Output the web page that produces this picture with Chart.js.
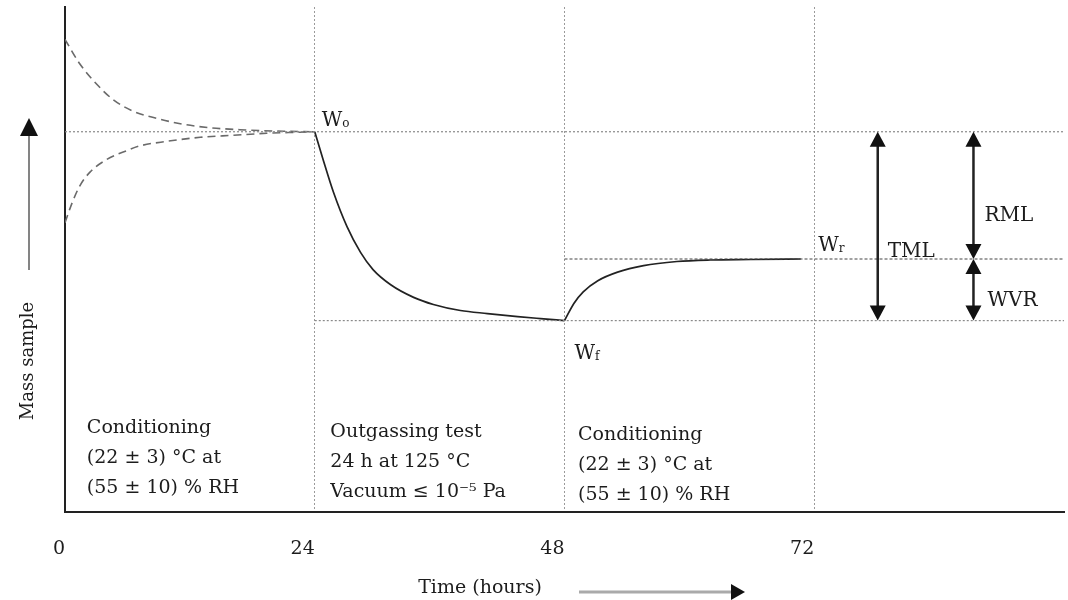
<!DOCTYPE html>
<html>
<head>
<meta charset="utf-8">
<script src="https://cdn.jsdelivr.net/npm/chart.js@4.4.0/dist/chart.umd.min.js"></script>
<style>
    html, body { margin: 0; padding: 0; background: #fff; }
    #wrap { width: 1068px; height: 600px; }
</style>
</head>
<body>
<div id="wrap"><canvas id="myChart" width="1068" height="600"></canvas></div>
<script>
// time ticks (hours)
var tickHours = [0, 24, 48, 72, 96];
var tickLabels = ["0", "24", "48", "72", ""];

// mass levels (relative units)
var massW0 = 75.3;
var massWr = 50.1;
var massWf = 37.9;

// conditioning, dashed curves
var condUpperX = [0, 1.4, 3.1, 4.6, 6.5, 8.9, 11.3, 13.9, 16.8, 21.0, 24];
var condUpperY = [93.6, 88.8, 84.6, 81.7, 79.4, 77.9, 76.8, 76.1, 75.7, 75.4, 75.3];
var condLowerX = [0, 0.7, 1.4, 2.4, 4.0, 6.0, 7.2, 9.8, 13.0, 16.2, 19.4, 22.6, 24];
var condLowerY = [57.3, 61.3, 64.5, 67.3, 69.8, 71.6, 72.5, 73.4, 74.2, 74.6, 75.0, 75.2, 75.3];

// outgassing test
var outgasX = [24, 24.8, 25.8, 27.1, 28.4, 29.6, 31.3, 33.5, 35.4, 38.0, 40.6, 43.5, 45.7, 48];
var outgasY = [75.3, 69.8, 63.3, 56.5, 51.4, 48.0, 45.0, 42.5, 41.1, 39.9, 39.3, 38.7, 38.3, 37.9];

// re-conditioning
var recoverX = [48, 48.9, 49.8, 51.2, 53.1, 55.6, 58.8, 62.0, 65.9, 70.7];
var recoverY = [37.9, 41.3, 43.6, 45.8, 47.5, 48.8, 49.6, 49.9, 50.0, 50.1];

// arrow positions (hours)
var tmlHour = 78.1;
var rmlHour = 87.3;

var serif = "'DejaVu Serif', 'Liberation Serif', serif";
var ink = "#1c1c1c";

function pts(xs, ys) {
    return xs.map(function (x, i) { return { x: x, y: ys[i] }; });
}

function dashed(data) {
    return { data: data, borderColor: "#6a6a6a", borderWidth: 1.6, borderDash: [8, 5], pointRadius: 0, fill: false, cubicInterpolationMode: "monotone" };
}
function solid(data) {
    return { data: data, borderColor: "#222", borderWidth: 1.7, pointRadius: 0, fill: false, cubicInterpolationMode: "monotone" };
}
function level(x0, y, color, dash) {
    return { data: [{ x: x0, y: y }, { x: 96, y: y }], borderColor: color, borderWidth: 1.2, borderDash: dash, pointRadius: 0, fill: false };
}

function arrowHead(ctx, x, y, dir) {
    // dir = -1 points up, 1 points down
    ctx.beginPath();
    ctx.moveTo(x, y);
    ctx.lineTo(x - 8, y - dir * 15);
    ctx.lineTo(x + 8, y - dir * 15);
    ctx.closePath();
    ctx.fill();
}

function vArrow(ctx, x, yTop, yBot) {
    ctx.strokeStyle = "#222";
    ctx.fillStyle = "#111";
    ctx.lineWidth = 2.5;
    ctx.beginPath();
    ctx.moveTo(x, yTop + 10);
    ctx.lineTo(x, yBot - 10);
    ctx.stroke();
    arrowHead(ctx, x, yTop, -1);
    arrowHead(ctx, x, yBot, 1);
}

function wLabel(ctx, x, y, sub) {
    ctx.font = "20px " + serif;
    ctx.textAlign = "left";
    ctx.textBaseline = "alphabetic";
    ctx.fillText("W", x, y);
    var w = ctx.measureText("W").width;
    ctx.font = "12px " + serif;
    ctx.fillText(sub, x + w, y + 1);
}

var notes = {
    id: "notes",
    afterDraw: function (chart) {
        var ctx = chart.ctx, xs = chart.scales.x, ys = chart.scales.y;
        var X = function (v) { return xs.getPixelForValue(v); };
        var Y = function (v) { return ys.getPixelForValue(v); };
        ctx.save();

        // difference arrows
        vArrow(ctx, X(tmlHour), Y(massW0), Y(massWf));
        vArrow(ctx, X(rmlHour), Y(massW0), Y(massWr));
        vArrow(ctx, X(rmlHour), Y(massWr), Y(massWf));

        ctx.fillStyle = ink;
        ctx.font = "20px " + serif;
        ctx.textAlign = "left";
        ctx.textBaseline = "middle";
        ctx.fillText("TML", X(tmlHour) + 10, Y(massWr) - 7);
        ctx.fillText("RML", X(rmlHour) + 11, (Y(massW0) + Y(massWr)) / 2 + 20);
        ctx.fillText("WVR", X(rmlHour) + 14, (Y(massWr) + Y(massWf)) / 2 + 11);

        wLabel(ctx, X(24) + 7, Y(massW0) - 6, "o");
        wLabel(ctx, X(72) + 4, Y(massWr) - 8, "r");
        wLabel(ctx, X(48) + 10, Y(massWf) + 38, "f");

        // phase descriptions
        var blocks = [
            { h: 2.1, top: 428, lines: ["Conditioning", "(22 \u00b1 3) \u00b0C at", "(55 \u00b1 10) % RH"] },
            { h: 25.5, top: 432, lines: ["Outgassing test", "24 h at 125 \u00b0C", "Vacuum \u2264 10\u207b\u2075 Pa"] },
            { h: 49.3, top: 435, lines: ["Conditioning", "(22 \u00b1 3) \u00b0C at", "(55 \u00b1 10) % RH"] }
        ];
        ctx.font = "19px " + serif;
        ctx.textBaseline = "middle";
        blocks.forEach(function (b) {
            b.lines.forEach(function (t, i) {
                ctx.fillText(t, X(b.h), b.top + i * 30);
            });
        });

        // axis titles with arrows
        ctx.textAlign = "center";
        ctx.fillText("Time (hours)", 480, 588);
        ctx.strokeStyle = "#aaa";
        ctx.lineWidth = 3;
        ctx.beginPath();
        ctx.moveTo(579, 592);
        ctx.lineTo(733, 592);
        ctx.stroke();
        ctx.fillStyle = "#111";
        ctx.beginPath();
        ctx.moveTo(745, 592);
        ctx.lineTo(731, 584);
        ctx.lineTo(731, 600);
        ctx.closePath();
        ctx.fill();

        ctx.save();
        ctx.translate(28, 361);
        ctx.rotate(-Math.PI / 2);
        ctx.fillStyle = ink;
        ctx.font = "18px " + serif;
        ctx.fillText("Mass sample", 0, 0);
        ctx.restore();

        ctx.strokeStyle = "#777";
        ctx.lineWidth = 1.8;
        ctx.beginPath();
        ctx.moveTo(29, 270);
        ctx.lineTo(29, 132);
        ctx.stroke();
        ctx.fillStyle = "#111";
        ctx.beginPath();
        ctx.moveTo(29, 118);
        ctx.lineTo(20, 136);
        ctx.lineTo(38, 136);
        ctx.closePath();
        ctx.fill();

        ctx.restore();
    }
};

new Chart("myChart", {
    type: "line",
    data: {
        datasets: [
            level(0, massW0, "#8a8a8a", [2, 2]),
            level(48, massWr, "#444", [3, 2]),
            level(24, massWf, "#8a8a8a", [2, 2]),
            dashed(pts(condUpperX, condUpperY)),
            dashed(pts(condLowerX, condLowerY)),
            solid(pts(outgasX, outgasY)),
            solid(pts(recoverX, recoverY))
        ]
    },
    options: {
        responsive: false,
        animation: false,
        events: [],
        layout: { padding: { top: 7, right: 4, left: 0, bottom: 0 } },
        plugins: { legend: { display: false }, tooltip: { enabled: false } },
        scales: {
            x: {
                type: "linear",
                min: 0,
                max: 96,
                afterBuildTicks: function (s) { s.ticks = tickHours.map(function (v) { return { value: v }; }); },
                afterFit: function (s) {
                    s.height = 88;
                    s.paddingLeft = 0;
                    s.paddingRight = 0;
                },
                ticks: {
                    align: "end",
                    padding: 26,
                    color: ink,
                    font: { family: serif, size: 19 },
                    callback: function (v, i) { return tickLabels[i]; }
                },
                grid: {
                    drawTicks: false,
                    lineWidth: 1,
                    color: function (c) { return (c.tick && c.tick.value > 0 && c.tick.value < 96) ? "#9a9a9a" : "rgba(0,0,0,0)"; }
                },
                border: { display: true, color: "#222", width: 2, dash: [2, 2] }
            },
            y: {
                type: "linear",
                min: 0,
                max: 100,
                afterFit: function (s) { s.width = 65; },
                ticks: { display: false },
                grid: { display: false, drawTicks: false },
                border: { display: true, color: "#222", width: 2 }
            }
        }
    },
    plugins: [notes]
});
</script>
</body>
</html>
